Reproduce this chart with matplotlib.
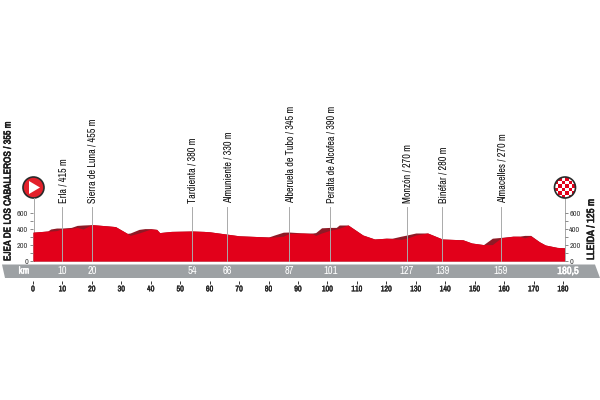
import numpy as np
import matplotlib.pyplot as plt
import matplotlib.font_manager as fm
import matplotlib.patheffects as pe
from matplotlib.colors import ListedColormap
from matplotlib.patches import Polygon, Circle

# Profile: km, elevation of the climbs (top) and of the red road line (front)
km = [0, 5, 6, 8, 10, 13, 15, 17, 20, 25, 28, 32, 33, 36, 38, 40, 42, 43, 47, 54, 58,
      60, 70, 80, 82, 85, 87, 92, 95, 96, 98, 101, 103, 104, 107, 112, 116, 120,
      122, 125, 127, 130, 134, 139, 146, 149, 153, 156, 159, 163, 165, 167, 169, 172, 174, 178, 180.5]
top = [360, 375, 400, 412, 412, 420, 445, 450, 455, 440, 430, 345, 350, 395, 405, 405, 395, 355, 370, 375, 370,
       365, 315, 300, 325, 360, 362, 350, 350, 355, 415, 420, 420, 450, 450, 325, 275, 285,
       285, 310, 325, 350, 350, 275, 265, 225, 205, 285, 295, 310, 310, 320, 320, 240, 200, 170, 165]
front = [360, 375, 375, 380, 405, 410, 420, 400, 455, 440, 430, 345, 320, 350, 375, 400, 395, 355, 370, 375, 370,
         365, 315, 300, 300, 310, 345, 350, 340, 320, 350, 385, 400, 410, 450, 325, 275, 285,
         280, 270, 285, 325, 350, 275, 265, 225, 205, 205, 290, 310, 310, 290, 315, 240, 200, 170, 165]

place_km = [10, 20, 54, 66, 87, 101, 127, 139, 159]
place_names = ['Erla / 415 m', 'Sierra de Luna / 455 m', 'Tardienta / 380 m', 'Almuniente / 330 m',
               'Alberuela de Tubo / 345 m', 'Peralta de Alcofea / 390 m', 'Monzón / 270 m',
               'Binéfar / 280 m', 'Almacelles / 270 m']

names = {f.name for f in fm.fontManager.ttflist}
narrow = 'Archivo Narrow' if 'Archivo Narrow' in names else 'Liberation Sans'
plt.rcParams['font.family'] = narrow

RED = '#e2001a'
DARK = '#8e1a26'
GREY = '#9da1a4'
# the narrow family has no bold face here, so thicken it with a stroke
fake_bold = [pe.withStroke(linewidth=0.4, foreground='#1a1a1a')]
white_bold = [pe.withStroke(linewidth=0.4, foreground='white')]
tick_bold = [pe.withStroke(linewidth=0.25, foreground='#222222')]

fig = plt.figure(figsize=(6, 4), dpi=100)

# overlay in pixel coordinates for the banner and badges
bg = fig.add_axes([0, 0, 1, 1])
bg.set_xlim(0, 600)
bg.set_ylim(400, 0)
bg.axis('off')
bg.add_patch(Polygon([(2, 264.5), (595, 264.5), (600, 278), (5, 278)], color=GREY, lw=0))

# profile axes: km 0-180.5 between px 33 and 564.5, 0-600 m between px 261 and 213
ax = fig.add_axes([33 / 600, (400 - 261) / 400, 531.5 / 600, 48 / 400])
ax.set_xlim(0, 180.5)
ax.set_ylim(0, 600)
ax.patch.set_alpha(0)
ax.fill_between(km, top, color=DARK, lw=0)
ax.fill_between(km, front, color=RED, lw=0)

for k, name in zip(place_km, place_names):
    ax.plot([k, k], [0, 670], color='#aaaaaa', lw=0.7, clip_on=False)
    x = 33 + k * 2.944
    bg.text(x + 1, 203, name, rotation=90, ha='center', va='bottom', fontsize=7.3, color='#111111')
    bg.text(x, 271, str(k), ha='center', va='center', fontsize=7.5, color='white')

bg.text(24, 271, 'km', ha='center', va='center', fontsize=7, color='white', path_effects=white_bold)
bg.text(568, 271, '180,5', ha='center', va='center', fontsize=7.5, color='white', path_effects=white_bold)

for side in ax.spines.values():
    side.set_visible(False)
ax.spines['bottom'].set_position(('outward', 14.2))
ax.set_xticks(np.arange(0, 181, 10))
ax.set_yticks([0, 200, 400, 600])
ax.set_yticks([100, 300, 500], minor=True)
ax.tick_params(axis='x', length=2.5, width=0.7, labelsize=5.8, pad=1.5, color='#333333', labelcolor='#222222')
ax.tick_params(axis='y', which='both', length=2, width=0.6, left=True, right=True, labelleft=True, labelright=True,
               labelsize=5.8, pad=1.5, color='#777777', labelcolor='#333333')
for lab in ax.get_xticklabels():
    lab.set_path_effects(tick_bold)

# start and finish lines and badges
bg.plot([33.5, 33.5], [198, 261], color='#a8a8a8', lw=0.7)
bg.plot([564.5, 564.5], [198, 261], color='#a8a8a8', lw=0.7)
bg.add_patch(Circle((33.5, 187.5), 10.5, fc='#e3202a', ec='#2a2a2a', lw=1.2))
bg.add_patch(Polygon([(29, 181), (29, 194), (40, 187.5)], color='white', lw=0))

cx, cy, r = 565, 187.5, 10.5
cells = np.indices((6, 6)).sum(axis=0) % 2
im = bg.pcolormesh(np.linspace(cx - r, cx + r, 7), np.linspace(cy - r, cy + r, 7), cells,
                   cmap=ListedColormap(['white', RED]), zorder=3)
ring = Circle((cx, cy), r, fc='none', ec='#2a2a2a', lw=1.2, zorder=4)
bg.add_patch(ring)
im.set_clip_path(ring)
bg.set_xlim(0, 600)
bg.set_ylim(400, 0)

bg.text(7.5, 261, 'EJEA DE LOS CABALLEROS / 355 m', rotation=90, ha='center', va='bottom',
        fontsize=7.2, color='#1a1a1a', path_effects=fake_bold)
bg.text(591, 260, 'LLEIDA / 125 m', rotation=90, ha='center', va='bottom',
        fontsize=7.6, color='#1a1a1a', path_effects=fake_bold)

fig.savefig('out.png', dpi=100)
